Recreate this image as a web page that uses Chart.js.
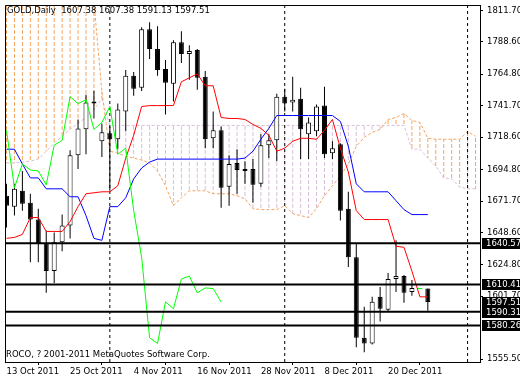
<!DOCTYPE html>
<html><head><meta charset="utf-8">
<script src="https://cdn.jsdelivr.net/npm/chart.js@4"></script>
<style>html,body{margin:0;padding:0;background:#fff;}canvas{display:block}</style>
</head><body>
<canvas id="c" width="520" height="380"></canvas>
<script>
// ---- data ----
const dates = ["2011.10.13","2011.10.14","2011.10.17","2011.10.18","2011.10.19","2011.10.20","2011.10.21","2011.10.24","2011.10.25","2011.10.26","2011.10.27","2011.10.28","2011.10.31","2011.11.01","2011.11.02","2011.11.03","2011.11.04","2011.11.07","2011.11.08","2011.11.09","2011.11.10","2011.11.11","2011.11.14","2011.11.15","2011.11.16","2011.11.17","2011.11.18","2011.11.21","2011.11.22","2011.11.23","2011.11.24","2011.11.25","2011.11.28","2011.11.29","2011.11.30","2011.12.01","2011.12.02","2011.12.05","2011.12.06","2011.12.07","2011.12.08","2011.12.09","2011.12.12","2011.12.13","2011.12.14","2011.12.15","2011.12.16","2011.12.19","2011.12.20","2011.12.21","2011.12.22","2011.12.23","2011.12.26","2011.12.27"];
const opens  = [1675.55,1667.54,1679.19,1670.45,1658.08,1640.60,1620.22,1641.33,1653.71,1705.40,1724.33,1744.72,1715.59,1721.42,1717.05,1737.44,1763.65,1754.91,1797.87,1783.31,1768.74,1757.82,1788.40,1779.66,1782.58,1762.92,1717.78,1723.60,1682.10,1699.58,1695.21,1695.21,1684.30,1712.68,1716.32,1748.36,1743.99,1746.90,1720.69,1722.88,1741.81,1706.86,1713.41,1666.09,1630.41,1571.15,1567.07,1601.29,1591.83,1614.39,1616.58,1604.93,1607.38,1607.38];
const highs  = [1684.30,1684.30,1693.75,1677.01,1666.09,1650.07,1648.61,1661.72,1709.04,1731.61,1749.81,1752.73,1728.70,1726.52,1743.26,1768.02,1766.56,1799.32,1802.96,1800.05,1775.30,1789.86,1796.41,1786.22,1783.31,1767.29,1737.44,1726.52,1705.40,1709.77,1700.99,1702.49,1720.69,1720.69,1750.54,1754.18,1762.92,1754.91,1733.07,1742.53,1755.64,1715.59,1714.14,1678.46,1640.60,1594.01,1601.29,1608.57,1618.76,1642.79,1617.30,1613.66,1607.38,1607.38];
const lows   = [1652.25,1660.99,1664.63,1626.77,1626.77,1604.20,1611.48,1634.78,1644.24,1695.21,1706.13,1732.34,1703.95,1679.19,1709.77,1722.88,1749.09,1752.50,1776.02,1763.65,1735.25,1744.72,1773.11,1760.74,1753.45,1710.50,1710.50,1666.81,1668.27,1677.01,1684.30,1670.45,1682.10,1703.22,1700.99,1737.44,1737.44,1702.49,1702.49,1719.23,1703.22,1702.49,1657.35,1623.13,1564.16,1560.52,1566.34,1583.09,1590.37,1604.93,1596.92,1602.02,1607.38,1591.13];
const closes = [1668.27,1680.65,1669.73,1658.08,1640.60,1620.22,1641.33,1653.71,1705.40,1725.06,1743.99,1743.26,1722.15,1717.05,1738.89,1763.65,1754.18,1797.87,1783.31,1768.02,1758.55,1788.40,1779.66,1781.85,1762.19,1717.05,1723.60,1681.38,1698.85,1694.48,1693.75,1683.56,1712.68,1716.32,1748.36,1743.26,1746.17,1724.33,1729.43,1741.08,1706.13,1710.50,1664.63,1630.41,1571.15,1567.07,1597.65,1592.55,1614.39,1616.58,1604.20,1607.84,1607.38,1597.51];
const tenkan = [1644.24,1644.97,1647.16,1659.53,1659.53,1649.34,1649.34,1649.34,1656.62,1667.54,1677.01,1677.74,1678.47,1678.47,1682.83,1703.22,1719.96,1741.08,1741.81,1741.81,1741.81,1741.81,1759.28,1762.19,1765.10,1756.37,1756.37,1733.07,1732.34,1732.34,1731.61,1727.97,1725.06,1719.96,1708.31,1710.50,1715.59,1717.78,1717.78,1717.05,1723.60,1731.61,1710.50,1693.02,1664.63,1658.08,1658.08,1658.08,1658.08,1638.42,1637.69,1620.22,1601.29,1601.29];
const kijun  = [1709.77,1709.77,1698.85,1688.66,1688.66,1680.65,1680.65,1680.65,1674.82,1674.82,1660.99,1644.24,1642.79,1667.54,1667.54,1674.09,1687.93,1695.94,1700.31,1702.49,1702.49,1702.49,1702.49,1702.49,1702.49,1702.49,1702.49,1702.49,1702.49,1702.49,1703.22,1708.31,1717.05,1725.06,1734.52,1734.52,1734.52,1734.52,1734.52,1734.52,1734.52,1734.52,1730.16,1711.95,1684.30,1678.46,1678.46,1678.46,1678.46,1671.91,1665.36,1661.72,1661.72,1661.72];
const senkouA = [1835,1835,1835,1835,1835,1835,1835,1835,1835,1835,1835,1818,1752.0,1708.31,1706.86,1704.67,1703.22,1701.76,1699.58,1693.75,1682.83,1668.27,1674.09,1679.19,1679.19,1679.19,1677.01,1677.01,1677.01,1675.55,1673.37,1666.09,1665.36,1665.36,1665.36,1668.27,1662.45,1660.99,1659.53,1666.09,1675.55,1682.83,1690.11,1698.85,1711.95,1718.51,1722.15,1724.33,1731.61,1733.07,1735.98,1730.88,1729.43,1717.78,1717.05,1717.05,1717.05,1717.05,1722.88,1719.23];
const senkouB = [1699.58,1699.58,1700.31,1701.04,1702.49,1708.31,1714.14,1719.23,1724.33,1728.70,1733.07,1738.89,1746.90,1727.24,1727.24,1727.24,1727.24,1727.24,1727.24,1727.24,1727.24,1727.24,1727.24,1727.24,1727.24,1727.24,1727.24,1727.24,1727.24,1727.24,1727.24,1727.24,1727.24,1727.24,1727.24,1727.24,1727.24,1727.24,1727.24,1727.24,1727.24,1727.24,1727.24,1727.24,1727.24,1727.24,1727.24,1727.24,1727.24,1727.24,1727.24,1709.77,1709.77,1703.22,1697.40,1688.66,1687.93,1682.10,1680.65,1680.65];
const chikouShift = 26;
const levels = [1640.57, 1610.41, 1590.31, 1580.26];
const boxedPrices = [1640.57, 1610.41, 1597.51, 1590.31, 1580.26];
const priceTicks = [1811.70, 1788.60, 1764.80, 1741.70, 1718.60, 1694.80, 1671.70, 1648.60, 1624.80, 1601.70, 1555.50];
const dateTickIdx = [0, 8, 16, 24, 32, 40, 48];
const dateTickLabels = ["13 Oct 2011","25 Oct 2011","4 Nov 2011","16 Nov 2011","28 Nov 2011","8 Dec 2011","20 Dec 2011"];
const separators = [13, 35, 58];
const titleText = "GOLD,Daily  1607.38 1607.38 1591.13 1597.51";
const footerText = "ROCO, ? 2001-2011 MetaQuotes Software Corp.";

// ---- scale ranges ----
const xMin = -0.1875, xMax = 59.5625;
const yMin = 1553.41, yMax = 1815.71;
const FONT = '"DejaVu Sans", sans-serif';
const FSIZE = 8.5;

const canvas = document.getElementById('c');
const ctx = canvas.getContext('2d');
function hatch(color, on, off){
  const c = document.createElement('canvas'); c.width = 1; c.height = on + off;
  const g = c.getContext('2d'); g.fillStyle = color; g.fillRect(0, 0, 1, on);
  return ctx.createPattern(c, 'repeat');
}
const ORANGE = '#f4a460', THISTLE = '#d8bfd8';

const idx = closes.map((_, i) => i);
const wickData = idx.filter(i => highs[i] > lows[i]).map(i => ({x: i, y: [lows[i], highs[i]]}));
const bodyIdx = idx.filter(i => opens[i] !== closes[i]);
const bodyData = bodyIdx.map(i => ({x: i, y: [opens[i], closes[i]]}));
const bodyFill = bodyIdx.map(i => closes[i] > opens[i] ? '#ffffff' : '#000000');
const dojiData = idx.filter(i => opens[i] === closes[i]).map(i => ({x: i, y: closes[i]}));
const kIdx = senkouA.map((_, i) => i);
const kumoUp = kIdx.filter(i => senkouA[i] > senkouB[i]).map(i => ({x: i, y: [senkouB[i], senkouA[i]]}));
const kumoDown = kIdx.filter(i => senkouA[i] <= senkouB[i]).map(i => ({x: i, y: [senkouA[i], senkouB[i]]}));
const chikou = closes.slice(chikouShift).map((c, j) => ({x: j, y: c}));
const asXY = arr => arr.map((v, i) => ({x: i, y: v}));

const lineDS = (label, data, color, order, extra) => Object.assign({
  type: 'line', label, data, borderColor: color, borderWidth: 1, pointRadius: 0,
  tension: 0, fill: false, order, clip: 0
}, extra || {});

const datasets = [
  {type: 'bar', label: 'kumoUp', data: kumoUp, backgroundColor: hatch(ORANGE, 4, 2), borderWidth: 0,
   barThickness: 1, grouped: false, inflateAmount: 0, order: 20, clip: 0},
  {type: 'bar', label: 'kumoDown', data: kumoDown, backgroundColor: hatch(THISTLE, 4, 2), borderWidth: 0,
   barThickness: 1, grouped: false, inflateAmount: 0, order: 20, clip: 0},
  lineDS('senkouA', asXY(senkouA), ORANGE, 19, {borderDash: [3, 2]}),
  lineDS('senkouB', asXY(senkouB), THISTLE, 19, {borderDash: [3, 2]}),
  ...separators.map(s => lineDS('sep', [{x: s, y: yMin}, {x: s, y: yMax}], '#000', 18, {borderDash: [3, 3]})),
  {type: 'bar', label: 'wicks', data: wickData, backgroundColor: '#000', borderWidth: 0,
   barThickness: 1, grouped: false, inflateAmount: 0, order: 10, clip: 0},
  {type: 'bar', label: 'bodies', data: bodyData, backgroundColor: bodyFill, borderColor: '#000', borderWidth: 1,
   borderSkipped: false, barThickness: 5, grouped: false, inflateAmount: 0, order: 9, clip: 0},
  {type: 'scatter', label: 'doji', data: dojiData, pointStyle: 'line', pointRadius: 2.5, borderColor: '#00ff00',
   borderWidth: 1, order: 9, clip: 0},
  lineDS('kijun', asXY(kijun), '#0000ff', 5),
  lineDS('tenkan', asXY(tenkan), '#ff0000', 4),
  lineDS('chikou', chikou, '#00ff00', 3),
  ...levels.map(v => lineDS('level', [{x: xMin, y: v}, {x: xMax, y: v}], '#000', 1, {borderWidth: 2}))
];

const overlay = {
  id: 'overlay',
  afterDraw(chart){
    const {ctx, chartArea: a, scales: {y}} = chart;
    ctx.save();
    ctx.strokeStyle = '#000'; ctx.lineWidth = 1;
    ctx.beginPath();
    ctx.moveTo(a.left + 0.5, a.bottom + 0.5); ctx.lineTo(a.left + 0.5, a.top + 0.5); ctx.lineTo(a.right + 0.5, a.top + 0.5);
    ctx.stroke();
    ctx.font = FSIZE + 'px ' + FONT; ctx.textBaseline = 'middle'; ctx.textAlign = 'left';
    boxedPrices.forEach(v => {
      const py = Math.round(y.getPixelForValue(v));
      ctx.fillStyle = '#000'; ctx.fillRect(a.right + 2, py - 5, chart.width - a.right - 2, 11);
      ctx.fillStyle = '#fff'; ctx.fillText(v.toFixed(2), a.right + 6, py + 0.5);
    });
    ctx.fillStyle = '#000';
    ctx.fillText(titleText, 7, 11);
    ctx.fillText(footerText, 6, 355);
    ctx.restore();
  }
};

const zeroPad = s => { s.paddingLeft = 0; s.paddingRight = 0; s.paddingTop = 0; s.paddingBottom = 0; };

new Chart(ctx, {
  type: 'bar',
  data: {datasets},
  options: {
    responsive: false, animation: false, events: [],
    layout: {padding: {left: 2, top: 2, right: 0, bottom: 0}},
    plugins: {legend: {display: false}, tooltip: {enabled: false}},
    scales: {
      x: {
        type: 'linear', position: 'bottom', min: xMin, max: xMax, offset: false,
        afterBuildTicks: s => { s.ticks = dateTickIdx.map(v => ({value: v})); },
        afterFit: s => { s.height = 18; zeroPad(s); },
        grid: {drawOnChartArea: false, drawTicks: true, tickLength: 3, color: '#000', tickColor: '#000'},
        border: {display: true, color: '#000', width: 1},
        ticks: {align: 'start', padding: 2, maxRotation: 0, autoSkip: false, color: '#000',
          font: {family: FONT, size: FSIZE},
          callback: (v, i) => dateTickLabels[i]}
      },
      y: {
        type: 'linear', position: 'right', min: yMin, max: yMax,
        afterBuildTicks: s => { s.ticks = priceTicks.map(v => ({value: v})); },
        afterFit: s => { s.width = 40; zeroPad(s); },
        grid: {drawOnChartArea: false, drawTicks: true, tickLength: 3, color: '#000', tickColor: '#000'},
        border: {display: true, color: '#000', width: 1},
        ticks: {padding: 4, autoSkip: false, color: '#000', font: {family: FONT, size: FSIZE},
          callback: v => v.toFixed(2)}
      }
    }
  },
  plugins: [overlay]
});
</script>
</body></html>
